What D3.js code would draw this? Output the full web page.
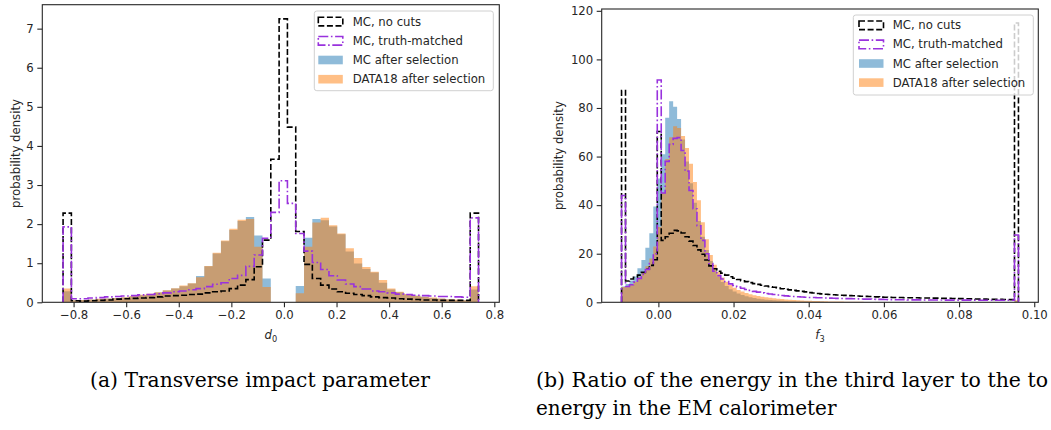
<!DOCTYPE html>
<html>
<head>
<meta charset="utf-8">
<script src="https://d3js.org/d3.v7.min.js"></script>
<style>
  body { margin: 0; background: #fff; }
  svg text { font-family: "DejaVu Sans", sans-serif; fill: #262626; }
  .caption { font-family: "DejaVu Serif", serif; fill: #000; }
</style>
</head>
<body>
<div id="chart"></div>
<script>

// ---- (a) d0 : 50 bins between -0.84 and 0.74
var d0Range = [-0.84, 0.74];
var d0NoCuts = [2.28, 0.04, 0.03, 0.04, 0.05, 0.06, 0.08, 0.09, 0.10, 0.11,
    0.12, 0.14, 0.16, 0.17, 0.18, 0.20, 0.21, 0.24, 0.27, 0.29,
    0.35, 0.44, 0.58, 0.91, 1.59, 3.66, 7.25, 4.48, 1.81, 0.97,
    0.61, 0.44, 0.34, 0.27, 0.23, 0.20, 0.17, 0.14, 0.12, 0.11,
    0.09, 0.08, 0.07, 0.06, 0.06, 0.05, 0.05, 0.05, 0.05, 2.28];
var d0Truth = [1.93, 0.09, 0.09, 0.11, 0.12, 0.14, 0.15, 0.16, 0.17, 0.19,
    0.20, 0.22, 0.24, 0.27, 0.29, 0.32, 0.35, 0.40, 0.46, 0.50,
    0.61, 0.69, 0.92, 1.21, 1.64, 2.30, 3.11, 2.53, 1.76, 1.31,
    1.02, 0.84, 0.68, 0.57, 0.47, 0.40, 0.34, 0.29, 0.27, 0.24,
    0.21, 0.20, 0.18, 0.17, 0.16, 0.15, 0.15, 0.14, 0.13, 2.16];
var d0MCSel = [0.28, 0.05, 0.06, 0.07, 0.08, 0.10, 0.11, 0.12, 0.15, 0.18,
    0.21, 0.25, 0.30, 0.35, 0.41, 0.48, 0.67, 0.92, 1.25, 1.56,
    1.85, 2.08, 2.18, 1.71, 0.61, 0, 0, 0, 0.42, 1.65,
    2.13, 2.10, 1.94, 1.74, 1.30, 0.99, 0.85, 0.76, 0.50, 0.33,
    0.26, 0.20, 0.17, 0.14, 0.11, 0.09, 0.07, 0.06, 0.05, 0.33];
var d0DataSel = [0.35, 0.05, 0.06, 0.07, 0.09, 0.10, 0.11, 0.13, 0.16, 0.19,
    0.22, 0.26, 0.31, 0.36, 0.43, 0.49, 0.64, 0.93, 1.27, 1.58,
    1.88, 2.11, 2.13, 1.42, 0.39, 0, 0, 0, 0.23, 1.42,
    2.04, 2.16, 1.97, 1.76, 1.38, 1.13, 0.90, 0.78, 0.57, 0.35,
    0.27, 0.21, 0.17, 0.14, 0.12, 0.10, 0.08, 0.07, 0.05, 0.41];
var d0XTicks = [-0.8, -0.6, -0.4, -0.2, 0.0, 0.2, 0.4, 0.6, 0.8];
var d0YTicks = [0, 1, 2, 3, 4, 5, 6, 7];

// ---- (b) f3 : 100 bins between -0.0098 and 0.0958
var f3Range = [-0.0098, 0.0958];
var f3NoCuts = [87.2, 8.8, 9.6, 10.3, 11.2, 12.3, 13.6, 15.2, 17.5, 70.3,
    25.5, 27.0, 28.4, 29.6, 29.4, 28.5, 27.0, 25.2, 23.4, 21.6,
    19.8, 17.4, 15.0, 13.8, 12.8, 12.0, 11.2, 10.5, 9.9, 9.4,
    8.9, 8.5, 8.1, 7.7, 7.4, 7.0, 6.7, 6.4, 6.2, 5.9,
    5.6, 5.4, 5.1, 4.9, 4.7, 4.5, 4.3, 4.0, 3.8, 3.6,
    3.45, 3.3, 3.2, 3.1, 3.0, 2.9, 2.85, 2.75, 2.7, 2.6,
    2.5, 2.45, 2.4, 2.3, 2.25, 2.15, 2.1, 2.05, 2.0, 1.98,
    1.95, 1.9, 1.9, 1.85, 1.85, 1.8, 1.8, 1.75, 1.7, 1.7,
    1.65, 1.6, 1.6, 1.55, 1.5, 1.5, 1.45, 1.45, 1.4, 1.35,
    1.3, 1.3, 1.25, 1.2, 1.2, 1.2, 1.15, 1.15, 1.1, 115];
var f3Truth = [44, 6.5, 7.2, 8.3, 9.8, 11.5, 13.5, 16.0, 20.0, 91.5,
    45, 58, 65, 67.5, 67.8, 62.5, 54, 46, 38.5, 31.5,
    25.5, 20.0, 16.0, 12.8, 11.0, 9.6, 8.5, 7.6, 6.9, 6.3,
    5.8, 5.3, 4.9, 4.5, 4.2, 3.9, 3.6, 3.4, 3.2, 3.0,
    2.8, 2.65, 2.5, 2.4, 2.3, 2.2, 2.1, 2.0, 1.95, 1.9,
    1.85, 1.8, 1.7, 1.65, 1.6, 1.55, 1.5, 1.5, 1.45, 1.4,
    1.35, 1.3, 1.3, 1.25, 1.2, 1.2, 1.15, 1.1, 1.1, 1.05,
    1.05, 1.05, 1.0, 1.0, 1.0, 1.0, 0.95, 0.95, 0.95, 0.95,
    0.95, 0.9, 0.9, 0.9, 0.9, 0.9, 0.9, 0.9, 0.85, 0.85,
    0.85, 0.85, 0.85, 0.85, 0.85, 0.85, 0.85, 0.85, 0.85, 27.7];
var f3MCSel = [6.5, 7.5, 9.0, 10.6, 14.0, 17.4, 22.5, 28.4, 39.4, 51,
    61, 76, 82.8, 80.5, 75.5, 67, 58, 49, 41, 33.5,
    27, 21.5, 17, 13.5, 10.6, 8.4, 6.7, 5.4, 4.4, 3.6,
    3.0, 2.5, 2.1, 1.8, 1.5, 1.3, 1.1, 0.95, 0.82, 0.72,
    0.63, 0.55, 0.48, 0.42, 0.37, 0.33, 0.29, 0.26, 0.23, 0.21,
    0.19, 0.17, 0.15, 0.14, 0.13, 0.12, 0.11, 0.10, 0.09, 0.09,
    0.08, 0.08, 0.07, 0.07, 0.06, 0.06, 0.06, 0.05, 0.05, 0.05,
    0.05, 0.04, 0.04, 0.04, 0.04, 0.04, 0.03, 0.03, 0.03, 0.03,
    0.03, 0.03, 0.03, 0.02, 0.02, 0.02, 0.02, 0.02, 0.02, 0.02,
    0.02, 0.02, 0.02, 0.02, 0.02, 0.02, 0.02, 0.02, 0.02, 0.5];
var f3DataSel = [6.3, 6.3, 7.2, 8.5, 10.3, 12.3, 14.8, 18.0, 23.0, 31.0,
    45, 59, 68, 72.5, 71.8, 68.5, 63.5, 57, 49.5, 42,
    33, 26, 19.5, 15.5, 12.5, 10.2, 8.5, 7.1, 6.0, 5.1,
    4.4, 3.8, 3.3, 2.9, 2.6, 2.3, 2.1, 1.9, 1.7, 1.5,
    1.35, 1.2, 1.05, 0.95, 0.85, 0.76, 0.68, 0.61, 0.55, 0.5,
    0.45, 0.41, 0.37, 0.34, 0.31, 0.28, 0.26, 0.24, 0.22, 0.2,
    0.18, 0.17, 0.16, 0.15, 0.14, 0.13, 0.12, 0.11, 0.1, 0.1,
    0.09, 0.09, 0.08, 0.08, 0.07, 0.07, 0.07, 0.06, 0.06, 0.06,
    0.05, 0.05, 0.05, 0.05, 0.05, 0.04, 0.04, 0.04, 0.04, 0.04,
    0.04, 0.04, 0.04, 0.04, 0.04, 0.04, 0.04, 0.04, 0.04, 0.8];
var f3XTicks = [0.00, 0.02, 0.04, 0.06, 0.08, 0.10];
var f3YTicks = [0, 20, 40, 60, 80, 100, 120];

var legendNames = ["MC, no cuts", "MC, truth-matched", "MC after selection", "DATA18 after selection"];

var svg = d3.select("#chart").append("svg")
    .attr("width", 1051)
    .attr("height", 430);

var fontSize = "11.7px";
var ink = "#262626";

function drawPanel(p) {
    var n = p.series[0].length;
    var edges = d3.range(n + 1).map(function (i) { return p.range[0] + (p.range[1] - p.range[0]) * i / n; });
    var pad = 0.05 * (p.range[1] - p.range[0]);

    var x = d3.scaleLinear()
        .domain([p.range[0] - pad, p.range[1] + pad])
        .range([p.left, p.right]);
    var ymax = d3.max(p.series, function (s) { return d3.max(s); }) * 1.05;
    var y = d3.scaleLinear()
        .domain([0, ymax])
        .range([p.bottom, p.top]);

    var g = svg.append("g");

    g.append("clipPath").attr("id", p.id + "clip")
        .append("rect")
        .attr("x", p.left).attr("y", p.top)
        .attr("width", p.right - p.left).attr("height", p.bottom - p.top);

    var plot = g.append("g").attr("clip-path", "url(#" + p.id + "clip)");

    function steps(vals) {
        var pts = [[edges[0], 0]];
        vals.forEach(function (v, i) {
            pts.push([edges[i], v]);
            pts.push([edges[i + 1], v]);
        });
        pts.push([edges[n], 0]);
        return pts;
    }
    var line = d3.line()
        .x(function (d) { return x(d[0]); })
        .y(function (d) { return y(d[1]); });

    // filled histograms (MC, then data on top)
    plot.append("path").attr("d", line(steps(p.series[2])) + "Z")
        .attr("fill", "#1f77b4").attr("fill-opacity", 0.5);
    plot.append("path").attr("d", line(steps(p.series[3])) + "Z")
        .attr("fill", "#ff7f0e").attr("fill-opacity", 0.5);

    // step outlines
    plot.append("path").attr("d", line(steps(p.series[0])))
        .attr("fill", "none").attr("stroke", "#000").attr("stroke-width", 1.6)
        .attr("stroke-dasharray", "6,2.6");
    plot.append("path").attr("d", line(steps(p.series[1])))
        .attr("fill", "none").attr("stroke", "#9932dd").attr("stroke-width", 1.6)
        .attr("stroke-dasharray", "10,2.6,1.6,2.6");

    // axes
    var xAxis = g.append("g")
        .attr("transform", "translate(0," + p.bottom + ")")
        .call(d3.axisBottom(x).tickValues(p.xTicks).tickFormat(d3.format(p.xFormat))
            .tickSize(5).tickPadding(3.5).tickSizeOuter(0));
    var yAxis = g.append("g")
        .attr("transform", "translate(" + p.left + ",0)")
        .call(d3.axisLeft(y).tickValues(p.yTicks).tickFormat(d3.format("d"))
            .tickSize(5).tickPadding(3.5).tickSizeOuter(0));
    [xAxis, yAxis].forEach(function (a) {
        a.select(".domain").remove();
        a.selectAll("line").attr("stroke", ink).attr("stroke-width", 1.1);
        a.selectAll("text").style("font-family", "DejaVu Sans").style("font-size", fontSize).attr("fill", ink);
    });

    g.append("rect")
        .attr("x", p.left).attr("y", p.top)
        .attr("width", p.right - p.left).attr("height", p.bottom - p.top)
        .attr("fill", "none").attr("stroke", ink).attr("stroke-width", 1.1);

    // axis labels
    g.append("text")
        .attr("transform", "translate(" + p.ylabelX + "," + ((p.top + p.bottom) / 2) + ") rotate(-90)")
        .attr("text-anchor", "middle")
        .attr("dy", "0.35em")
        .style("font-size", fontSize)
        .text("probability density");

    var xl = g.append("text")
        .attr("x", (p.left + p.right) / 2)
        .attr("y", 339)
        .attr("text-anchor", "middle")
        .style("font-size", fontSize);
    xl.append("tspan").style("font-style", "italic").text(p.xlabel[0]);
    xl.append("tspan").attr("dy", 2.5).style("font-size", "8.2px").text(p.xlabel[1]);

    // legend
    var lg = g.append("g");
    lg.append("rect")
        .attr("x", p.legend.x).attr("y", p.legend.y)
        .attr("width", p.legend.w).attr("height", p.legend.h)
        .attr("rx", 2.5)
        .attr("fill", "#fff").attr("fill-opacity", 0.8)
        .attr("stroke", "#d0d0d0").attr("stroke-width", 1);
    legendNames.forEach(function (name, i) {
        var cy = p.legend.row0 + i * p.legend.step;
        var r = lg.append("rect")
            .attr("x", p.legend.hx).attr("y", cy - 4.3)
            .attr("width", 24.5).attr("height", 8.6);
        if (i === 0) {
            r.attr("fill", "none").attr("stroke", "#000").attr("stroke-width", 1.6).attr("stroke-dasharray", "6,2.6");
        } else if (i === 1) {
            r.attr("fill", "none").attr("stroke", "#9932dd").attr("stroke-width", 1.6).attr("stroke-dasharray", "10,2.6,1.6,2.6");
        } else {
            r.attr("fill", i === 2 ? "#1f77b4" : "#ff7f0e").attr("fill-opacity", 0.5);
        }
        lg.append("text")
            .attr("x", p.legend.tx).attr("y", cy)
            .attr("dy", "0.35em")
            .style("font-size", fontSize)
            .text(name);
    });
}

drawPanel({
    id: "a",
    left: 42.3, right: 499.3, top: 4.7, bottom: 302.3,
    range: d0Range,
    series: [d0NoCuts, d0Truth, d0MCSel, d0DataSel],
    xTicks: d0XTicks, yTicks: d0YTicks, xFormat: ".1f",
    xlabel: ["d", "0"],
    ylabelX: 16,
    legend: { x: 314.3, y: 11, w: 179, h: 79.7, hx: 318.3, tx: 352.7, row0: 21.6, step: 19.2 }
});

drawPanel({
    id: "b",
    left: 601.7, right: 1038.3, top: 9, bottom: 302.3,
    range: f3Range,
    series: [f3NoCuts, f3Truth, f3MCSel, f3DataSel],
    xTicks: f3XTicks, yTicks: f3YTicks, xFormat: ".2f",
    xlabel: ["f", "3"],
    ylabelX: 559,
    legend: { x: 853.3, y: 15, w: 180, h: 80, hx: 859, tx: 892.7, row0: 25.3, step: 19.1 }
});

// sub-figure captions (the (b) line is cut by the page edge in the original)
svg.append("text").attr("class", "caption")
    .attr("x", 90).attr("y", 387)
    .attr("textLength", 340).attr("lengthAdjust", "spacingAndGlyphs")
    .style("font-size", "20px")
    .text("(a) Transverse impact parameter");
svg.append("text").attr("class", "caption")
    .attr("x", 536).attr("y", 387)
    .attr("textLength", 512).attr("lengthAdjust", "spacingAndGlyphs")
    .style("font-size", "20px")
    .text("(b) Ratio of the energy in the third layer to the to");
svg.append("text").attr("class", "caption")
    .attr("x", 536).attr("y", 415)
    .style("font-size", "20px")
    .text("energy in the EM calorimeter");

</script>
</body>
</html>
